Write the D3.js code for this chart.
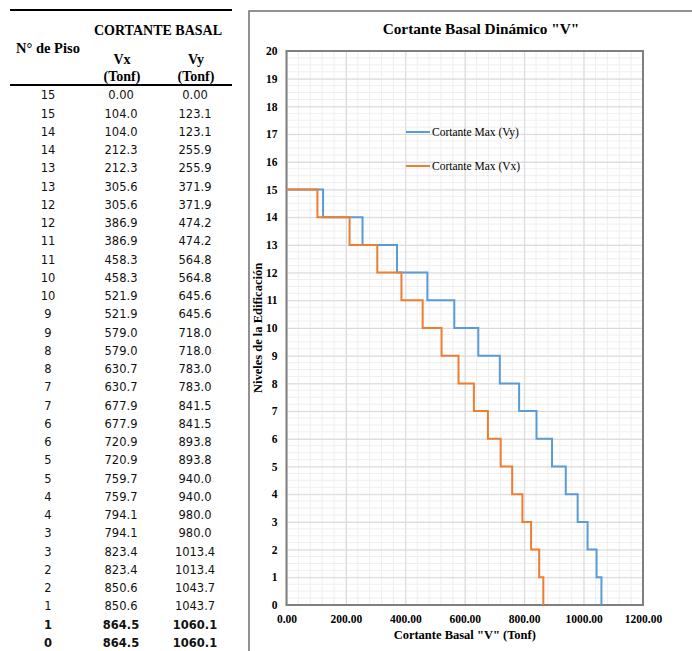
<!DOCTYPE html>
<html>
<head>
<meta charset="utf-8">
<script src="https://cdn.jsdelivr.net/npm/d3@7"></script>
<style>
  body { margin: 0; background: #fff; }
  svg { display: block; }
</style>
</head>
<body>
<svg id="page" width="692" height="651"></svg>
<script>
// table rows: N° de piso, Vx, Vy (Tonf)
var pisos = [15, 15, 14, 14, 13, 13, 12, 12, 11, 11, 10, 10, 9, 9, 8, 8, 7, 7, 6, 6, 5, 5, 4, 4, 3, 3, 2, 2, 1, 1, 0]
var vx = [0.0, 104.0, 104.0, 212.3, 212.3, 305.6, 305.6, 386.9, 386.9, 458.3, 458.3, 521.9, 521.9, 579.0, 579.0, 630.7,
  630.7, 677.9, 677.9, 720.9, 720.9, 759.7, 759.7, 794.1, 794.1, 823.4, 823.4, 850.6, 850.6, 864.5, 864.5]
var vy = [0.0, 123.1, 123.1, 255.9, 255.9, 371.9, 371.9, 474.2, 474.2, 564.8, 564.8, 645.6, 645.6, 718.0, 718.0, 783.0,
  783.0, 841.5, 841.5, 893.8, 893.8, 940.0, 940.0, 980.0, 980.0, 1013.4, 1013.4, 1043.7, 1043.7, 1060.1, 1060.1]
var xTicks = [0, 200, 400, 600, 800, 1000, 1200]
var yTicks = d3.range(0, 21)

const svg = d3.select('#page')
const serif = '"Liberation Serif", "Times New Roman", serif'
const sans = '"DejaVu Sans", Verdana, sans-serif'

// ---------- table ----------
const table = svg.append('g')
const colX = [48, 121, 195]
const rowY0 = 95.3
const rowH = 18.25

table.append('line').attr('x1', 10).attr('x2', 232).attr('y1', 10).attr('y2', 10)
  .attr('stroke', '#000').attr('stroke-width', 2)
table.append('line').attr('x1', 10).attr('x2', 232).attr('y1', 85).attr('y2', 85)
  .attr('stroke', '#000').attr('stroke-width', 2)

function headText(x, y, t, size) {
  table.append('text')
    .attr('x', x).attr('y', y)
    .attr('text-anchor', 'middle')
    .attr('dominant-baseline', 'central')
    .style('font-family', serif)
    .style('font-weight', 'bold')
    .style('font-size', size + 'px')
    .text(t)
}
headText(158, 30, 'CORTANTE BASAL', 14)
headText(48, 48, 'N° de Piso', 14.5)
headText(122, 59, 'Vx', 14)
headText(196, 59, 'Vy', 14)
headText(122, 76, '(Tonf)', 14)
headText(196, 76, '(Tonf)', 14)

pisos.forEach(function(p, i) {
  var ty = rowY0 + i * rowH
  var bold = i >= pisos.length - 2
  var cells = [String(p), i == 0 ? '0.00' : vx[i].toFixed(1), i == 0 ? '0.00' : vy[i].toFixed(1)]
  cells.forEach(function(c, j) {
    table.append('text')
      .attr('x', colX[j]).attr('y', ty)
      .attr('text-anchor', 'middle')
      .attr('dominant-baseline', 'central')
      .style('font-family', sans)
      .style('font-size', '11.5px')
      .style('font-weight', bold ? 'bold' : 'normal')
      .attr('fill', '#111')
      .text(c)
  })
})

// ---------- chart ----------
// outer chart frame (runs off the right/bottom edge)
svg.append('path')
  .attr('d', 'M249,700 L249,11 L700,11')
  .attr('fill', 'none')
  .attr('stroke', '#6e6e6e')
  .attr('stroke-width', 1.5)

const pLeft = 286.5, pRight = 643, pTop = 51, pBottom = 605
const x = d3.scaleLinear().domain([0, 1200]).range([pLeft, pRight])
const y = d3.scaleLinear().domain([0, 20]).range([pBottom, pTop])

const chart = svg.append('g')

// minor grid
chart.append('g')
  .selectAll('line')
  .data(d3.range(0, 1200.1, 40))
  .enter()
  .append('line')
  .attr('x1', d => x(d)).attr('x2', d => x(d))
  .attr('y1', pTop).attr('y2', pBottom)
  .attr('stroke', '#efefef').attr('stroke-width', 1)
chart.append('g')
  .selectAll('line')
  .data(d3.range(0, 20.01, 0.25))
  .enter()
  .append('line')
  .attr('x1', pLeft).attr('x2', pRight)
  .attr('y1', d => y(d)).attr('y2', d => y(d))
  .attr('stroke', '#efefef').attr('stroke-width', 1)

// major grid
chart.append('g')
  .attr('transform', `translate(0, ${pBottom})`)
  .call(d3.axisBottom(x).tickValues(xTicks).tickSize(-(pBottom - pTop)).tickFormat(''))
  .call(g => g.select('.domain').remove())
  .selectAll('line').attr('stroke', '#d9d9d9')
chart.append('g')
  .attr('transform', `translate(${pLeft}, 0)`)
  .call(d3.axisLeft(y).tickValues(yTicks).tickSize(-(pRight - pLeft)).tickFormat(''))
  .call(g => g.select('.domain').remove())
  .selectAll('line').attr('stroke', '#d9d9d9')

// plot border
chart.append('rect')
  .attr('x', pLeft).attr('y', pTop)
  .attr('width', pRight - pLeft).attr('height', pBottom - pTop)
  .attr('fill', 'none')
  .attr('stroke', '#7f7f7f')
  .attr('stroke-width', 2)

// tick labels
chart.append('g')
  .attr('transform', `translate(0, ${pBottom})`)
  .call(d3.axisBottom(x).tickValues(xTicks).tickSize(0).tickPadding(10).tickFormat(d3.format('.2f')))
  .call(g => g.select('.domain').remove())
  .selectAll('text')
  .style('font-family', serif).style('font-weight', 'bold').style('font-size', '11.5px').attr('fill', '#000')
chart.append('g')
  .attr('transform', `translate(${pLeft}, 0)`)
  .call(d3.axisLeft(y).tickValues(yTicks).tickSize(0).tickPadding(9).tickFormat(d3.format('d')))
  .call(g => g.select('.domain').remove())
  .selectAll('text')
  .style('font-family', serif).style('font-weight', 'bold').style('font-size', '11.5px').attr('fill', '#000')

// series
const line = d3.line()
  .x(d => x(d.v))
  .y(d => y(d.p))

const seriesVy = pisos.map((p, i) => ({ p: p, v: vy[i] }))
const seriesVx = pisos.map((p, i) => ({ p: p, v: vx[i] }))

chart.append('path')
  .datum(seriesVy)
  .attr('d', line)
  .attr('fill', 'none')
  .attr('stroke', '#5b9bd5')
  .attr('stroke-width', 2)
chart.append('path')
  .datum(seriesVx)
  .attr('d', line)
  .attr('fill', 'none')
  .attr('stroke', '#ed7d31')
  .attr('stroke-width', 2)

// legend
const legend = [
  { name: 'Cortante Max (Vy)', color: '#5b9bd5', y: 132 },
  { name: 'Cortante Max (Vx)', color: '#ed7d31', y: 166 }
]
legend.forEach(function(l) {
  chart.append('line')
    .attr('x1', 406).attr('x2', 430).attr('y1', l.y).attr('y2', l.y)
    .attr('stroke', l.color).attr('stroke-width', 2)
  chart.append('text')
    .attr('x', 432).attr('y', l.y)
    .attr('dominant-baseline', 'central')
    .style('font-family', serif).style('font-size', '11.5px')
    .text(l.name)
})

// title + axis labels
svg.append('text')
  .attr('x', 481).attr('y', 28)
  .attr('text-anchor', 'middle')
  .attr('dominant-baseline', 'central')
  .style('font-family', serif).style('font-weight', 'bold').style('font-size', '15.3px')
  .text('Cortante Basal Dinámico "V"')

svg.append('text')
  .attr('x', (pLeft + pRight) / 2).attr('y', 635)
  .attr('text-anchor', 'middle')
  .attr('dominant-baseline', 'central')
  .style('font-family', serif).style('font-weight', 'bold').style('font-size', '12.5px')
  .text('Cortante Basal "V" (Tonf)')

svg.append('text')
  .attr('transform', `translate(258, ${(pTop + pBottom) / 2}) rotate(-90)`)
  .attr('text-anchor', 'middle')
  .attr('dominant-baseline', 'central')
  .style('font-family', serif).style('font-weight', 'bold').style('font-size', '12.5px')
  .text('Niveles de la Edificación')
</script>
</body>
</html>
